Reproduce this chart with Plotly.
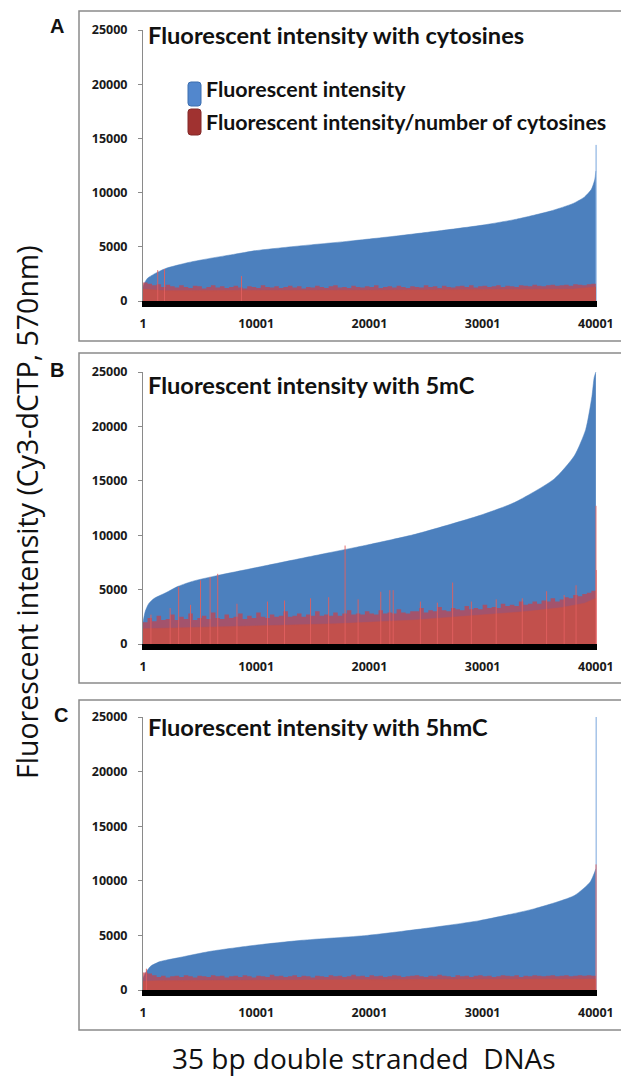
import plotly.graph_objects as go

W, H = 621, 1077

# ---------------- data ----------------
x_ticks = [1, 10001, 20001, 30001, 40001]
y_ticks = [0, 5000, 10000, 15000, 20000, 25000]

# Panel A : cytosines
blueA_x = [1, 150, 400, 1000, 2000, 4000, 6000, 8000, 10000, 14000, 18000, 22000, 26000, 30000, 33000, 36000, 38000, 39000, 39600, 39900, 40000]
blueA_y = [1300, 1700, 2100, 2500, 3000, 3550, 3950, 4300, 4650, 5100, 5500, 5950, 6450, 7000, 7550, 8300, 9000, 9600, 10300, 11200, 12000]
blueA_tail_x = [40020]
blueA_tail_y = [14400]
coreA_x = [1, 2000, 20000, 38000, 40000]
coreA_y = [1100, 950, 1000, 1100, 1300]
fringeA = [1700, 1600, 1450, 1550, 1300, 1500, 1350, 1250, 1450, 1300, 1200, 1400, 1350, 1150, 1300, 1450, 1250, 1350, 1200, 1300,
           1400, 1250, 1150, 1350, 1300, 1200, 1450, 1300, 1250, 1350, 1200, 1300, 1400, 1250, 1350, 1150, 1300, 1250, 1400, 1300,
           1200, 1350, 1450, 1250, 1300, 1200, 1400, 1300, 1250, 1350, 1300, 1450, 1200, 1300, 1350, 1250, 1400, 1300, 1200, 1350,
           1300, 1250, 1450, 1300, 1350, 1200, 1400, 1300, 1250, 1350, 1400, 1300, 1450, 1250, 1350, 1400, 1300, 1350, 1450, 1300,
           1400, 1350, 1300, 1450, 1400, 1350, 1500, 1400, 1350, 1450, 1500, 1400, 1450, 1500, 1400, 1550, 1500, 1450, 1550, 1600, 1650]
spikeA_x = [1300, 1900, 8700]
spikeA_y = [2850, 2950, 2300]

# Panel B : 5mC
blueB_x = [1, 200, 500, 1000, 2000, 3100, 4500, 6600, 9900, 15300, 19800, 24100, 29700, 32800, 36300, 38100, 39100, 39650, 39850, 40000]
blueB_y = [2000, 3000, 3700, 4200, 4700, 5300, 5800, 6300, 7000, 8150, 9100, 10100, 11800, 13000, 15150, 17300, 19700, 22750, 24500, 25000]
blueB_tail_x = []
blueB_tail_y = []
coreB_x = [1, 4000, 10000, 17000, 24000, 30000, 34000, 37000, 39000, 40000]
coreB_y = [1400, 1500, 1650, 1850, 2200, 2650, 3000, 3350, 3750, 4200]
fringeB = [2000, 2400, 2100, 2600, 2200, 2300, 2700, 2200, 2500, 2300, 2800, 2200, 2400, 2600, 2300, 2900, 2400, 2300, 2700, 2400,
           2500, 2800, 2300, 2600, 2400, 2900, 2500, 2400, 2700, 2500, 2600, 3000, 2500, 2600, 2800, 2500, 2700, 2600, 3000, 2600,
           2700, 2600, 2900, 2600, 2800, 3100, 2700, 2800, 2700, 3000, 2800, 2700, 3100, 2800, 2900, 2800, 3200, 2900, 2800, 3000,
           3000, 3300, 2900, 3100, 3000, 3400, 3100, 3000, 3300, 3200, 3100, 3500, 3200, 3300, 3200, 3600, 3300, 3400, 3300, 3700,
           3500, 3600, 3500, 3900, 3600, 3700, 3900, 3700, 4000, 3900, 4200, 3900, 4100, 4300, 4200, 4500, 4400, 4600, 4700, 4900, 5200]
spikeB_x = [700, 2400, 3150, 4200, 5080, 5930, 6600, 8300, 11000, 12500, 14800, 16400, 17850, 19000, 21000, 21800, 22100,
            24500, 26000, 27350, 29000, 31200, 33500, 35650, 37200, 38250, 40010, 40030]
spikeB_y = [2700, 3300, 5250, 3600, 5850, 6150, 6450, 3700, 3900, 4000, 4200, 4300, 9050, 4100, 4800, 4950, 4950,
            3900, 3800, 5650, 3900, 4100, 4200, 4850, 4500, 5400, 12700, 6800]

# Panel C : 5hmC
blueC_x = [1, 300, 700, 1500, 3100, 6000, 9900, 14000, 19800, 25000, 29700, 34600, 38100, 39500, 40000]
blueC_y = [1100, 1700, 2200, 2600, 2950, 3550, 4100, 4550, 5000, 5650, 6350, 7450, 8650, 9900, 11100]
blueC_tail_x = [40025]
blueC_tail_y = [25000]
coreC_x = [1, 1500, 20000, 40000]
coreC_y = [800, 850, 950, 1000]
fringeC = [1600, 1500, 1350, 1200, 1300, 1150, 1250, 1300, 1200, 1350, 1250, 1150, 1300, 1250, 1200, 1350, 1250, 1300, 1150, 1250,
           1300, 1200, 1350, 1250, 1150, 1300, 1250, 1200, 1400, 1250, 1300, 1200, 1250, 1350, 1200, 1300, 1250, 1150, 1300, 1250,
           1200, 1350, 1250, 1300, 1200, 1250, 1400, 1250, 1300, 1200, 1350, 1250, 1300, 1200, 1250, 1350, 1300, 1200, 1250, 1300,
           1350, 1250, 1200, 1300, 1250, 1400, 1300, 1250, 1200, 1350, 1250, 1300, 1200, 1300, 1350, 1250, 1300, 1200, 1250, 1350,
           1300, 1250, 1350, 1200, 1300, 1250, 1350, 1300, 1250, 1300, 1350, 1250, 1300, 1350, 1250, 1300, 1350, 1300, 1350, 1300, 1350]
spikeC_x = [300, 40015]
spikeC_y = [1950, 11500]

fringe_step = 400

titles = ["Fluorescent intensity with cytosines", "Fluorescent intensity with 5mC", "Fluorescent intensity with 5hmC"]
letters = ["A", "B", "C"]
legend_labels = ["Fluorescent intensity", "Fluorescent intensity/number of cytosines"]

# ---------------- styling ----------------
BLUE = "rgb(76,128,190)"
RED = "rgb(194,80,76)"
FRINGE = "rgba(205,62,70,0.68)"
SPIKE = "rgba(225,95,95,0.9)"
BOX = "#8a8a8a"

def px(x):
    return x / W

def py(y):
    return 1 - y / H

plot_left, plot_right = 143, 597
panels_px = [(30, 301), (372, 644), (717, 990)]
boxes_px = [(11, 341), (353, 683), (700, 1030)]
title_y = [35, 385, 727]
letter_pos = [(57, 26), (57, 370), (61, 715)]

panels = [
    (blueA_x, blueA_y, blueA_tail_x, blueA_tail_y, coreA_x, coreA_y, fringeA, spikeA_x, spikeA_y),
    (blueB_x, blueB_y, blueB_tail_x, blueB_tail_y, coreB_x, coreB_y, fringeB, spikeB_x, spikeB_y),
    (blueC_x, blueC_y, blueC_tail_x, blueC_tail_y, coreC_x, coreC_y, fringeC, spikeC_x, spikeC_y),
]

fig = go.Figure()

def seg(xs, ys):
    X, Y = [], []
    for a, b in zip(xs, ys):
        X += [a, a, None]
        Y += [0, b, None]
    return X, Y

for i, (bx, by, tx, ty, cx, cy, fr, sx, sy) in enumerate(panels):
    xa = "x" if i == 0 else f"x{i+1}"
    ya = "y" if i == 0 else f"y{i+1}"
    fig.add_trace(go.Scatter(x=bx, y=by, mode="lines", line=dict(color=BLUE, width=0.5, shape="spline", smoothing=0.6),
                             fill="tozeroy", fillcolor=BLUE, xaxis=xa, yaxis=ya,
                             showlegend=False, hoverinfo="skip"))
    if tx:
        X, Y = seg(tx, ty)
        fig.add_trace(go.Scatter(x=X, y=Y, mode="lines", line=dict(color="rgb(120,165,220)", width=1),
                                 xaxis=xa, yaxis=ya, showlegend=False, hoverinfo="skip"))
    fx = [k * fringe_step for k in range(len(fr))]
    fig.add_trace(go.Scatter(x=fx, y=fr, mode="lines", line=dict(color=FRINGE, width=0, shape="hv"),
                             fill="tozeroy", fillcolor=FRINGE, xaxis=xa, yaxis=ya,
                             showlegend=False, hoverinfo="skip"))
    fig.add_trace(go.Scatter(x=cx, y=cy, mode="lines", line=dict(color=RED, width=0.5),
                             fill="tozeroy", fillcolor=RED, xaxis=xa, yaxis=ya,
                             showlegend=False, hoverinfo="skip"))
    X, Y = seg(sx, sy)
    fig.add_trace(go.Scatter(x=X, y=Y, mode="lines", line=dict(color=SPIKE, width=1),
                             xaxis=xa, yaxis=ya, showlegend=False, hoverinfo="skip"))

layout = dict(width=W, height=H, margin=dict(l=0, r=0, t=0, b=0, pad=0, autoexpand=False),
              paper_bgcolor="white", plot_bgcolor="white", showlegend=False)

tickfont = dict(family="Open Sans", size=12.5, color="#1a1a1a", weight="bold")
for i, (top, bot) in enumerate(panels_px):
    sfx = "" if i == 0 else str(i + 1)
    layout["xaxis" + sfx] = dict(domain=[px(plot_left), px(plot_right)], range=[1, 40100],
                                 anchor="y" + sfx, tickvals=x_ticks, ticktext=[str(v) for v in x_ticks],
                                 showline=True, linecolor="black", linewidth=6, ticks="",
                                 showgrid=False, zeroline=False, tickfont=tickfont,
                                 ticklabelstandoff=6, automargin=False, fixedrange=True)
    layout["yaxis" + sfx] = dict(domain=[py(bot), py(top)], range=[0, 25000], anchor="x" + sfx,
                                 tickvals=y_ticks, ticktext=[str(v) for v in y_ticks],
                                 showline=True, linecolor=BOX, linewidth=1, ticks="outside",
                                 ticklen=4, tickcolor=BOX, showgrid=False, zeroline=False,
                                 tickfont=tickfont, ticklabelstandoff=8, automargin=False, fixedrange=True)

shapes = []
for (t, b) in boxes_px:
    shapes.append(dict(type="rect", xref="paper", yref="paper", x0=px(79), x1=px(640),
                       y0=py(b), y1=py(t), line=dict(color=BOX, width=1.5), fillcolor="rgba(0,0,0,0)"))

def rounded(x0, y0, x1, y1, r):
    return (f"M {px(x0+r)},{py(y0)} L {px(x1-r)},{py(y0)} Q {px(x1)},{py(y0)} {px(x1)},{py(y0+r)} "
            f"L {px(x1)},{py(y1-r)} Q {px(x1)},{py(y1)} {px(x1-r)},{py(y1)} "
            f"L {px(x0+r)},{py(y1)} Q {px(x0)},{py(y1)} {px(x0)},{py(y1-r)} "
            f"L {px(x0)},{py(y0+r)} Q {px(x0)},{py(y0)} {px(x0+r)},{py(y0)} Z")

shapes.append(dict(type="path", xref="paper", yref="paper", path=rounded(188, 82, 201, 106, 3),
                   fillcolor="rgb(82,135,205)", line=dict(color="rgb(60,110,175)", width=1)))
shapes.append(dict(type="path", xref="paper", yref="paper", path=rounded(188, 109, 201, 135, 3),
                   fillcolor="rgb(160,50,48)", line=dict(color="rgb(130,40,40)", width=1)))
layout["shapes"] = shapes

ann = []
TFONT = "Lato"
for i in range(3):
    ann.append(dict(text=titles[i], x=px(146), y=py(title_y[i]), xref="paper", yref="paper",
                    xanchor="left", yanchor="middle", showarrow=False,
                    font=dict(family=TFONT, size=23.6, color="#111", weight="bold")))
    ann.append(dict(text=letters[i], x=px(letter_pos[i][0]), y=py(letter_pos[i][1]), xref="paper", yref="paper",
                    xanchor="center", yanchor="middle", showarrow=False,
                    font=dict(family="Liberation Sans", size=20, color="#111", weight="bold")))
for lab, yc in zip(legend_labels, [89, 122]):
    ann.append(dict(text=lab, x=px(204), y=py(yc), xref="paper", yref="paper",
                    xanchor="left", yanchor="middle", showarrow=False,
                    font=dict(family=TFONT, size=21.4, color="#111", weight="bold")))
ann.append(dict(text="Fluorescent intensity (Cy3-dCTP, 570nm)", x=px(27), y=py(512), xref="paper", yref="paper",
                xanchor="center", yanchor="middle", textangle=-90, showarrow=False,
                font=dict(family="Open Sans", size=28.5, color="#111")))
ann.append(dict(text="35 bp double stranded&nbsp; DNAs", x=px(364), y=py(1058), xref="paper", yref="paper",
                xanchor="center", yanchor="middle", showarrow=False,
                font=dict(family="Open Sans", size=28, color="#111")))
layout["annotations"] = ann

fig.update_layout(**layout)
fig.write_html("out.html", config={"displayModeBar": False, "staticPlot": True},
               post_script="document.body.style.margin='0';document.body.style.overflow='hidden';")
